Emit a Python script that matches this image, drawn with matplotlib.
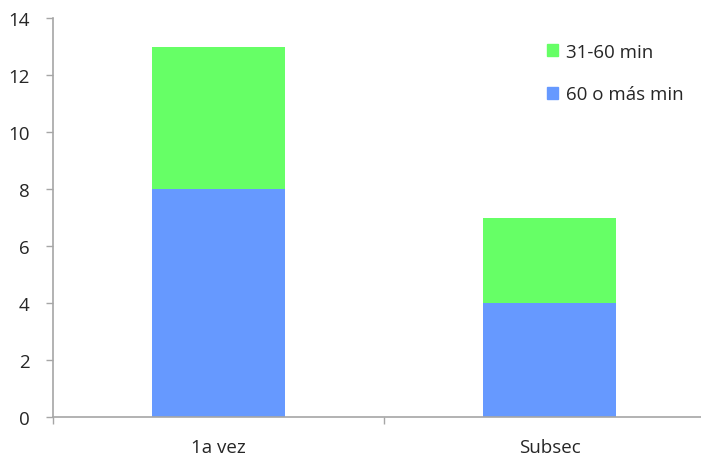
import matplotlib
matplotlib.use("Agg")
import matplotlib.pyplot as plt
from matplotlib.patches import Patch

categories = ["1a vez", "Subsec"]
sixty_plus = [8, 4]
thirty_one_sixty = [5, 3]
y_ticks = [0, 2, 4, 6, 8, 10, 12, 14]

blue = "#6699FF"
green = "#66FF66"
axis_grey = "#A6A6A6"

plt.rcParams["font.family"] = ["Open Sans", "DejaVu Sans"]

W, H = 701, 456
fig = plt.figure(figsize=(W / 100, H / 100), dpi=100)
left, right = 53 / W, 715 / W
bottom, top = 1 - 418 / H, 1 - 19 / H
ax = fig.add_axes([left, bottom, right - left, top - bottom])

x = list(range(len(categories)))
ax.bar(x, sixty_plus, width=0.4, color=blue, label="60 o más min", zorder=2)
ax.bar(x, thirty_one_sixty, width=0.4, bottom=sixty_plus, color=green,
       label="31-60 min", zorder=2)

ax.set_xlim(-0.5, len(categories) - 0.5)
ax.set_ylim(0, 14)
ax.set_yticks(y_ticks)
ax.set_yticklabels([str(v) for v in y_ticks])

ax.set_xticks(x)
ax.set_xticklabels(categories)
ax.set_xticks([i - 0.5 for i in range(len(categories) + 1)], minor=True)
ax.tick_params(axis="x", which="major", length=0, pad=15, labelsize=13.5)
ax.tick_params(axis="x", which="minor", length=5, width=1, color=axis_grey, direction="out")
ax.tick_params(axis="y", length=5, width=1, color=axis_grey, direction="out",
               pad=12, labelsize=13.5, labelcolor="#262626")
for lbl in ax.get_xticklabels():
    lbl.set_color("#262626")

for side in ("top", "right"):
    ax.spines[side].set_visible(False)
for side in ("left", "bottom"):
    ax.spines[side].set_color(axis_grey)
    ax.spines[side].set_linewidth(1.2)

handles = [Patch(color=green, label="31-60 min"), Patch(color=blue, label="60 o más min")]
leg = ax.legend(handles=handles, loc="upper left", bbox_to_anchor=(547 / W, 1 - 44 / H),
                bbox_transform=fig.transFigure, frameon=False, fontsize=13.5,
                handlelength=0.6, handleheight=0.6, handletextpad=0.4,
                labelspacing=1.3, borderaxespad=0, borderpad=0)
for t in leg.get_texts():
    t.set_color("#262626")

fig.savefig("out.png", dpi=100)
